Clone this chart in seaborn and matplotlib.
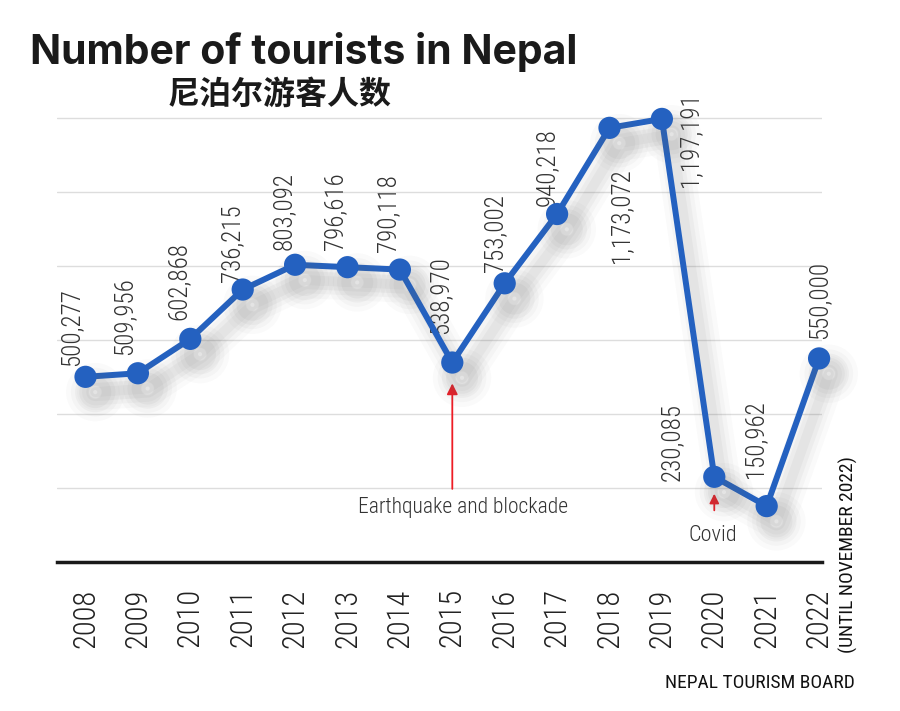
#!/usr/bin/env python3
import matplotlib
matplotlib.use('Agg')
import matplotlib.pyplot as plt
import matplotlib.patheffects as pe
from matplotlib import font_manager as fm
import numpy as np
import pandas as pd
import seaborn as sns

sns.set_theme(style='white')

FACES = [(f.name, f.weight) for f in fm.fontManager.ttflist]


def pick(cands, min_weight=0, default='DejaVu Sans'):
    for c in cands:
        for name, w in FACES:
            if name == c and (not isinstance(w, int) or w >= min_weight):
                return c
    return default


NARROW = pick(['Roboto Condensed', 'Open Sans Condensed', 'PT Sans Narrow',
               'Archivo Narrow', 'Fira Sans Condensed', 'Barlow Condensed'])
TITLE = pick(['Montserrat', 'Inter'], min_weight=700)
plt.rcParams['font.family'] = [NARROW, 'DejaVu Sans']

years = list(range(2008, 2023))
tourists = [500277, 509956, 602868, 736215, 803092, 796616, 790118, 538970,
            753002, 940218, 1173072, 1197191, 230085, 150962, 550000]
value_labels = [f'{v:,}' for v in tourists]

BLUE = '#2461c0'
RED = '#ee1c25'

# label offsets in pixels (dx, dy, vertical alignment)
label_pos = [(-14, 11, 'bottom'), (-14, 18, 'bottom'), (-12, 19, 'bottom'),
             (-11, 8, 'bottom'), (-11, 15, 'bottom'), (-12, 17, 'bottom'),
             (-12, 18, 'bottom'), (-12, 29, 'bottom'), (-10, 11, 'bottom'),
             (-10, 8, 'bottom'), (12, -40, 'top'), (28, -21, 'center'),
             (-42, -4, 'bottom'), (-12, 28, 'bottom'), (0, 19, 'bottom')]

df = pd.DataFrame({'year': years, 'tourists': tourists})

fig = plt.figure(figsize=(9, 7.11), dpi=100)
ax = fig.add_axes([0.063, 0.2096, 0.85, 0.635])

sns.lineplot(data=df, x='year', y='tourists', ax=ax, color=BLUE,
             lw=4.3, marker='o', markersize=16, markeredgewidth=0, zorder=5)

line = ax.get_lines()[0]
line.set_clip_on(False)
shadow = [pe.SimpleLineShadow(offset=(7, -11), shadow_color='#666666',
                              alpha=a, linewidth=w)
          for w, a in ((26, 0.03), (19, 0.04), (13, 0.05), (7, 0.06))]
line.set_path_effects(shadow + [pe.Normal()])

for x, y, txt, (dx, dy, va) in zip(years, tourists, value_labels, label_pos):
    ax.annotate(txt, (x, y), xytext=(dx, dy), textcoords='offset pixels',
                rotation=90, ha='center', va=va, fontsize=18,
                fontweight='light', color='#333333')

# event annotations
ax.annotate('', xy=(2015, 490000), xytext=(2015, 190000),
            arrowprops=dict(arrowstyle='-|>', color=RED, lw=1.3,
                            mutation_scale=16))
ax.text(2015.2, 146000, 'Earthquake and blockade', ha='center', va='center',
        fontsize=15.5, fontweight='light', color='#333333')
ax.annotate('', xy=(2020, 192000), xytext=(2020, 132000),
            arrowprops=dict(arrowstyle='-|>', color=RED, lw=1.3,
                            mutation_scale=14))
ax.text(2019.97, 72000, 'Covid', ha='center', va='center',
        fontsize=16, fontweight='light', color='#333333')

ax.set_xlim(2007.45, 2022.05)
ax.set_ylim(0, 1.22e6)
ax.set_xticks(years)
ax.set_xticklabels([str(y) for y in years])
ax.set_yticks(np.arange(0, 1.2e6 + 1, 2e5))
ax.set_yticklabels([])
ax.yaxis.grid(True, color='#dddddd', lw=1)
ax.tick_params(axis='y', length=0)
ax.tick_params(axis='x', length=15, width=1, color='#bbbbbb', pad=4,
               labelsize=22, labelrotation=90, labelcolor='#222222')
for t in ax.get_xticklabels():
    t.set_fontweight('light')
ax.set_xlabel('')
ax.set_ylabel('')
for s in ['left', 'right', 'top']:
    ax.spines[s].set_visible(False)
ax.spines['bottom'].set_color('#1a1a1a')
ax.spines['bottom'].set_linewidth(2.5)
ax.spines['bottom'].set_zorder(6)

fig.text(30 / 900, 1 - 52 / 711, 'Number of tourists in Nepal', ha='left',
         va='center', fontsize=27 if TITLE == 'Montserrat' else 29.5,
         fontweight='bold', color='#1a1a1a', family=[TITLE, 'DejaVu Sans'])
fig.text(168 / 900, 1 - 95 / 711, '尼泊尔游客人数', ha='left', va='center',
         fontsize=23, fontweight='bold', color='#1a1a1a',
         family=['Noto Sans CJK SC', 'DejaVu Sans'])
fig.text(848 / 900, 1 - 555 / 711, '(UNTIL NOVEMBER 2022)', rotation=90,
         ha='center', va='center', fontsize=14, color='#111111')
fig.text(855 / 900, 1 - 683 / 711, 'NEPAL TOURISM BOARD', ha='right',
         va='center', fontsize=14, color='#111111')

fig.savefig('out.png', dpi=100, facecolor='white')
